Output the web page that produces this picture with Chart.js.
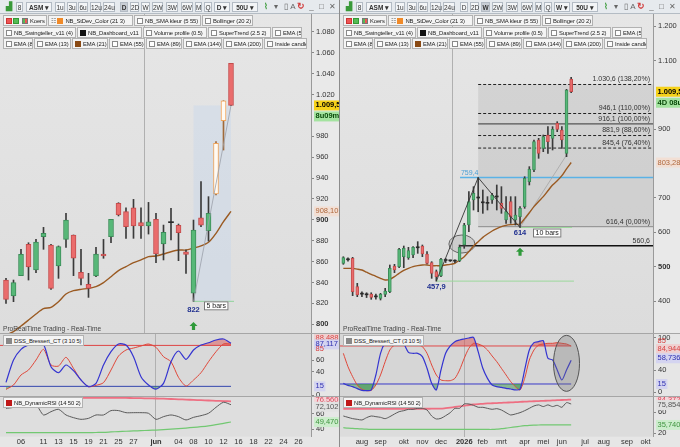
<!DOCTYPE html>
<html><head><meta charset="utf-8">
<script src="https://cdn.jsdelivr.net/npm/chart.js@4.4.1/dist/chart.umd.min.js"></script>
<style>
body{margin:0;width:680px;height:447px;overflow:hidden;position:relative;background:#e0e0e0;font-family:"Liberation Sans",Arial,sans-serif;}
.pan{position:absolute;top:0;width:340px;height:447px;overflow:hidden;}
.pan canvas{position:absolute;left:0;}
.tb{position:absolute;left:0;top:0;width:340px;height:14px;background:#e6eaee;border-bottom:1px solid #b4bcc4;box-sizing:border-box;}
.tb span{position:absolute;top:2px;height:10px;line-height:9px;border:1px solid #b3bbc4;background:#f3f5f7;text-align:center;color:#333;box-sizing:border-box;font-size:6.5px;}
.tb span.n{border:none;background:none;font-size:8px;color:#666}
.tb span.sel{background:#c9ced5;font-weight:bold}
.tb span.b{font-weight:bold}
.lg{position:absolute;height:11px;line-height:10px;font-size:5.9px;letter-spacing:-0.12px;color:#222;background:#f4f4f4;border:1px solid #b2b2b2;box-sizing:border-box;padding-left:2px;white-space:nowrap;overflow:hidden}
.lg i{display:inline-block;width:4px;height:4px;border:1px solid #8a8a8a;margin-right:2px;vertical-align:-1px;background:#fff}
.sep{position:absolute;background:#a6a6a6}
.prt{position:absolute;left:3px;top:325px;font-size:6.6px;color:#444;white-space:nowrap}
</style></head>
<body>
<div class="pan" id="pl" style="left:0">
  <canvas id="cpl" width="340" height="319" style="top:14px"></canvas>
  <canvas id="cdl" width="340" height="63" style="top:333px"></canvas>
  <canvas id="crl" width="340" height="51" style="top:396px"></canvas>
</div>
<div class="pan" id="pr" style="left:340px">
  <canvas id="cpr" width="340" height="319" style="top:14px"></canvas>
  <canvas id="cdr" width="340" height="63" style="top:333px"></canvas>
  <canvas id="crr" width="340" height="51" style="top:396px"></canvas>
</div>
<div class="sep" style="left:339px;top:0;width:1px;height:447px;background:#8c8c8c"></div>
<script>
// ---------- daily chart (left) ----------
const dayTickPos  = [2, 5, 7, 9, 11, 13, 15, 17, 20, 23, 25, 27, 29, 31, 33, 35, 37, 39];
const dayTickText = ['06','11','13','15','19','21','25','27','jun','04','08','10','12','16','18','22','24','26'];
const dayOpen  = [842.4,827.1,846.6,876.6,852,883.9,875.9,855.8,881.3,885.5,849.8,838.3,846.3,867.3,883.9,915.8,907.8,911.6,897.3,894.1,900.5,876.9,897.3,894.7,869.5,829.7,902,889.6,924.7,994.9,1049.8];
const dayHigh  = [844,842.4,871.8,878.1,881.3,892.8,876.6,875,906.2,885.5,871.8,848.8,873.7,881.3,900.5,916.4,911.6,919.6,911.6,916.7,906.2,895,911,896,871.1,899.8,936.5,922.2,974.8,1014,1049.8];
const dayLow   = [820,821.7,846.6,842.4,849.4,871.8,833.5,844,873.7,846.6,837.6,825.8,845.6,863.2,878.1,903.7,882.3,882.3,882.3,886.4,859,861.6,880.7,860.9,848.8,822,893.5,879.7,923.8,966.8,1009.3];
const dayClose = [823.9,839.9,867,854.9,878.8,887.1,834.4,874.3,899.8,863.2,844,834.4,867.3,865.4,900.5,904.6,893.5,894.1,894.1,898.2,867.3,888,897.5,887.7,867,890.3,895,906.2,973.2,1014,1009.5];
const dayEma21 = [789.8,793,798.4,804.1,809.9,815,816.3,821.7,829,832.2,833.5,834.4,836,839.9,845.6,851.4,855.2,859,861.6,864.8,865.4,867.3,869.5,871.1,871.1,873,875,878.5,887.1,898.2,908.1];
const dayDssFast = [21.8,60,78.2,85.6,87.4,86.8,48.6,38.3,51.5,41.8,25.8,14.4,20.1,51.5,74.2,87.4,85.6,65.7,31.5,17.3,10.4,20.1,57.1,75.4,61.1,77.1,85.6,89.6,94.2,95.9,88.5];
const dayDssSlow = [9.8,17.3,34.4,42.9,60,78.2,51.5,49.7,64.6,45.7,25.8,14.4,16.7,21.3,42.9,66.8,77.1,80.5,83.9,87.4,81.7,65.7,57.1,30.4,15.6,25.8,38.3,57.1,74.2,87.4,87.4];
const dayRsi   = [67.4,68.7,73.9,68.7,71.8,58.7,63,66.1,58.7,55.2,53,54.3,58.7,58.7,64.4,64.4,61.7,61.7,61.7,60.9,53,56.5,58.7,56.5,52.2,55.6,57.8,60.9,68.7,75.3,72.1];
const dayRsiUp = [80,80,80,80.2,80.4,80.5,80.8,81,81,81,81,81,81,81,81,81,81,80.8,80.6,80.4,80.2,80,79.6,79.2,78.8,78.4,78,77.6,77.2,76.9,76.6];
const dayRsiLo = [35.6,35.6,35.6,35.6,35.6,35.6,35.6,35.6,35.6,35.6,35.6,35.6,35.8,36,36.5,37,37.4,37.8,38.2,38.6,39,39.6,40.2,40.8,41.6,42.5,43.4,44.5,46,47.8,49.5];
const dayPriceTicks = [800,820,840,860,880,900,920,940,960,980,1020,1040,1060,1080];

// ---------- weekly chart (right) ----------
const wkTickPos  = [4, 8, 13, 17, 21, 26, 30, 34, 39, 43, 47, 52, 56, 61, 65];
const wkTickText = ['aug','sep','okt','nov','dec','2026','feb','mrt','apr','mei','jun','jul','aug','sep','okt'];
const wkOpen  = [509.7,520,524.3,441.7,421,418,420.4,412,407.8,419.4,427.2,501.9,500,529.1,526.2,534,555,560.2,536.9,511.7,485.4,472.8,518,517,516,517.5,563.1,621.4,694.2,702,688,686,694.2,704,684.5,635.9,689.3,635.9,645.6,674.8,747.6,781.6,868.9,844.7,883.5,873.8,917.5,898,830.1,1046.6];
const wkHigh  = [529,526,527.2,451.5,427,424,424,420,422.3,436.9,504.9,506.8,553.4,560.2,556.3,558.3,572.8,563.1,543.7,514.6,490.3,524.3,524,519,520,563.1,626.2,718.4,733,759.4,723.3,703.9,713.6,737.9,733,703.9,703.9,703.9,674.8,762.1,791.3,868.9,873.8,883.5,907.8,907.8,922.3,907.8,1016.5,1051.5];
const wkLow   = [506.8,516,415.5,412.6,412.6,410,404.9,405,402.9,412.6,424.3,482.5,497.1,497.1,521.4,526.2,538.8,529.1,507.8,466,457.9,470.9,512,515,512,514.6,553.4,601.9,665,660,655.3,665,684.5,665,655.3,626.2,626.2,621.4,614,669.9,737.9,776.7,815.5,834.9,830.1,839.8,893.2,844.7,820.4,1007];
const wkClose = [526.2,522,427.2,417.5,420,419,410.7,413,419.4,429.1,495.1,490.3,550.5,553.4,546.6,556.3,557,536.9,509.7,480.6,470.9,521.4,520,517.5,517,556.3,621.4,689.3,713.6,700,686,684.5,708.7,703,669.9,660.2,645.6,650.5,669.9,757.3,783.5,864.1,830.1,878.6,864.1,900,900,868.9,1014.6,1009.5];
const wkEma21 = [495.1,495.1,495,493,490.3,484,477.7,472,466,461.2,463,470.9,480.6,489.3,495.1,500,502.9,504.9,504.9,502.9,502.9,502.9,504.9,506.8,509.7,519.4,529,543.7,560.2,572.8,585.4,595.1,603.9,610.7,616.5,620.4,622.3,623.3,624.3,640,657,674.8,690,703.9,721,737.9,750,765,785,803.3];
const wkDssFast = [16.2,12.5,10.1,6.4,3.3,2.7,4,31.6,71.5,91.1,96,96,93,88.7,73.3,71.5,71.5,65.4,43.9,16.2,4,40.8,71.5,85,93,96,97.9,99.7,100.9,74.5,43.9,25.4,13.2,10.1,8.9,7,5.8,4,5.2,40.8,77.6,91.1,93,94.8,62.3,59.2,40.8,22.4,40.8,58.7];
const wkDssSlow = [71.5,46.9,28.5,13.2,5.2,2.7,3.3,13.2,31.6,56.1,77.6,86.8,88.7,89.9,89.9,88.7,87.4,83.8,71.5,50,31.6,22.4,21.1,21.1,25.4,40.8,62.3,80.7,89.9,88.7,85,77.6,66.6,56.1,43.9,31.6,19.3,10.1,4,25.4,59.2,77.6,86.8,88.7,89.9,89.9,91.1,89.9,88.7,84.9];
const wkRsi   = [52.9,50.3,47.8,46.5,45.2,49.7,52.9,51.6,50.3,47.8,51.6,56.7,61.2,63.1,65.7,65.7,67.6,67.6,64.4,52.9,47.1,48.4,53.5,59.3,67.6,67.6,76,76,73.4,69.6,69.6,67.6,65.7,67,64.4,59.3,54.8,56.7,59.3,63.1,67.6,72.2,74.2,71,74.2,71,73.4,69.6,78.5,75.9];
const wkRsiUp = [66.5,66.5,66.5,66.5,66.5,66.5,66.5,66.5,66.5,66.5,66.5,66.5,66.6,66.6,66.7,66.7,66.8,66.8,66.8,66.9,66.9,67,68,69,70.2,71.4,72.6,74,75,75.7,76.3,77,77.4,77.8,78.2,78.6,79,79.4,80,80.4,80.8,81.2,81.6,82,82.4,82.8,83.2,83.6,84,84.4];
const wkRsiLo = [30.5,29.5,29,28.5,28,27.5,27.2,27,27,27,27,27,27,27,27,27,27,27,27,27,27,27,27,27,27,27,27,27,27,27,27,27,27,27.5,28.5,29.5,30.8,32,33.2,34.2,35,35.4,35.6,35.7,35.7,35.7,35.7,35.7,35.7,35.7];
const wkPriceTicks = [400,500,600,700,900,1100,1200];
const fibLevels = [1030.6, 946.1, 916.1, 881.9, 845.4, 616.4];
const fibText   = ['1.030,6 (138,20%)','946,1 (110,00%)','916,1 (100,00%)','881,9 (88,60%)','845,4 (76,40%)','616,4 (0,00%)'];

const FONT = '"Liberation Sans", Arial, sans-serif';
const fmtNum = v => String(v).replace(/\B(?=(\d{3})+(?!\d))/g, '.');

// ---------- page chrome ----------
function toolbar(panel, sel, tf) {
  const items = [['',3,11,'ic'],['8',16,7,''],['ASM ▾',26,26,'b'],['1u',55,10,''],['3u',67,10,''],['6u',78,10,''],['12u',90,11,''],['24u',103,12,''],
    ['D',120,8,''],['2D',130,9,''],['W',141,9,''],['2W',152,11,''],['3W',166,12,''],['6W',181,12,''],['M',195,7,''],['Q',204,8,''],
    [tf + ' ▾',214,16,'b'],['50U ▾',232,26,'b'],['',260,12,'ch'],['▾',273,6,'n'],['▯',283,6,'n'],['A',290,6,'n'],['↻',296,10,'rf'],['_',308,7,'n'],['□',318,7,'n'],['✕',328,8,'n']];
  const tb = document.createElement('div'); tb.className = 'tb';
  items.forEach(([t, x, w, k]) => {
    const s = document.createElement('span');
    s.textContent = t; s.style.left = x + 'px'; s.style.width = w + 'px';
    if (t === sel) k = 'sel';
    if (k) s.className = k === 'ic' || k === 'ch' || k === 'rf' ? 'n' : k;
    if (k === 'ic') s.innerHTML = '<b style="color:#3a9a3a;font-size:8px">▟</b>';
    if (k === 'ch') s.innerHTML = '<b style="color:#3a9a3a;font-size:8px">⌇</b>';
    if (k === 'rf') s.innerHTML = '<b style="color:#d23a3a;font-size:9px">↻</b>';
    tb.appendChild(s);
  });
  panel.appendChild(tb);
}
const legendRows = [
  [15, [[3,44,'Koers','k'],[48,85,'NB_StDev_Color (21 3)','o'],[134,67,'NB_SMA kleur (5 55)',''],[202,51,'Bollinger (20 2)','']]],
  [27, [[3,73,'NB_Swingteller_v11 (4)',''],[77,65,'NB_Dashboard_v11','b'],[143,64,'Volume profile (0.5)',''],[208,63,'SuperTrend (2.5 2)',''],[272,30,'EMA (5)','']]],
  [38, [[3,30,'EMA (8)',''],[34,37,'EMA (13)',''],[72,36,'EMA (21)','e'],[109,36,'EMA (55)',''],[146,36,'EMA (89)',''],[183,39,'EMA (144)',''],[223,40,'EMA (200)',''],[264,43,'Inside candle','']]]
];
function legends(panel) {
  const sw = {o:'#f08a28', b:'#111', e:'#8a4a14', g:'#888', r:'#c01818'};
  const add = (y, x, w, t, k) => {
    const d = document.createElement('div'); d.className = 'lg';
    d.style.cssText = `left:${x}px;top:${y}px;width:${w}px`;
    let pre = `<i style="${sw[k] ? 'background:' + sw[k] + ';border-color:' + sw[k] : ''}"></i>`;
    if (k === 'k') pre = '<i style="background:#e55;border-color:#c33;margin-right:1px"></i><i style="background:#5b5;border-color:#393;margin-right:3px"></i><i style="background:linear-gradient(90deg,#5b5 50%,#e55 50%);border-color:#777"></i>';
    if (k === 'o') pre = '<span style="color:#555">☷ </span>' + pre;
    d.innerHTML = pre + t; panel.appendChild(d);
  };
  legendRows.forEach(([y, row]) => row.forEach(([x, w, t, k]) => add(y, x, w, t, k)));
  add(335, 3, 81, 'DSS_Bressert_CT (3 10 5)', 'g');
  add(397, 3, 80, 'NB_DynamicRSI (14 50 2)', 'r');
  const p = document.createElement('div'); p.className = 'prt';
  p.textContent = 'ProRealTime Trading - Real-Time'; panel.appendChild(p);
  [333, 396].forEach(y => { const s = document.createElement('div'); s.className = 'sep';
    s.style.cssText = `left:0;top:${y}px;width:340px;height:1px`; panel.appendChild(s); });
}
const pl = document.getElementById('pl'), pr = document.getElementById('pr');
toolbar(pl, 'D', 'D'); toolbar(pr, 'W', 'W');
legends(pl); legends(pr);

// ---------- drawing helpers ----------
function seg(c, x1, y1, x2, y2, col, w, dash) {
  c.save(); c.strokeStyle = col; c.lineWidth = w; c.setLineDash(dash || []);
  c.beginPath(); c.moveTo(x1, y1); c.lineTo(x2, y2); c.stroke(); c.restore();
}
function txt(c, s, x, y, col, font, align, base) {
  c.save(); c.fillStyle = col; c.font = font || ('7px ' + FONT);
  c.textAlign = align || 'left'; c.textBaseline = base || 'middle'; c.fillText(s, x, y); c.restore();
}
function tag(ch, v, s, bg, fg, dy, bold) {
  const c = ch.ctx, a = ch.chartArea, y = ch.scales.y.getPixelForValue(v) + (dy || 0);
  c.save(); c.font = (bold ? 'bold ' : '') + '7.5px ' + FONT;
  const w = c.measureText(s).width + 3;
  if (bg) { c.fillStyle = bg; c.fillRect(a.right + 3, y - 5, w, 10); }
  c.fillStyle = fg; c.textBaseline = 'middle'; c.fillText(s, a.right + 4.5, y); c.restore();
}
function barsBox(c, s, x, y) {
  c.save(); c.font = '7px ' + FONT; const w = c.measureText(s).width + 5;
  c.fillStyle = '#fff'; c.fillRect(x, y, w, 9); c.strokeStyle = '#777'; c.lineWidth = 1;
  c.strokeRect(x + 0.5, y + 0.5, w - 1, 8); c.fillStyle = '#222'; c.textBaseline = 'middle';
  c.fillText(s, x + 2.5, y + 4.8); c.restore();
}
function arrow(c, x, y) {
  c.save(); c.fillStyle = '#2f9a3a'; c.beginPath();
  c.moveTo(x, y); c.lineTo(x + 4, y + 4); c.lineTo(x + 1.6, y + 4); c.lineTo(x + 1.6, y + 8);
  c.lineTo(x - 1.6, y + 8); c.lineTo(x - 1.6, y + 4); c.lineTo(x - 4, y + 4); c.closePath(); c.fill(); c.restore();
}
function ell(c, x, y, rx, ry, fill, stroke) {
  c.save(); c.beginPath(); c.ellipse(x, y, rx, ry, 0, 0, Math.PI * 2);
  c.fillStyle = fill; c.fill(); c.strokeStyle = stroke; c.lineWidth = 1; c.stroke(); c.restore();
}

const deco = {};
Chart.register({
  id: 'deco',
  beforeDraw(ch) {
    const d = deco[ch.canvas.id]; if (!d) return;
    const c = ch.ctx, a = ch.chartArea;
    c.save(); c.fillStyle = d.axisBg; c.fillRect(0, 0, ch.width, ch.height);
    let g = d.bg;
    if (Array.isArray(d.bg)) { g = c.createLinearGradient(0, a.top, 0, a.bottom); g.addColorStop(0, d.bg[0]); g.addColorStop(1, d.bg[1]); }
    c.fillStyle = g; c.fillRect(a.left, a.top, a.right - a.left, a.bottom - a.top); c.restore();
  },
  beforeDatasetsDraw(ch) {
    const d = deco[ch.canvas.id];
    if (d && d.under) d.under(ch, ch.ctx, v => ch.scales.x.getPixelForValue(v), v => ch.scales.y.getPixelForValue(v), ch.chartArea);
  },
  afterDraw(ch) {
    const d = deco[ch.canvas.id];
    if (d && d.over) d.over(ch, ch.ctx, v => ch.scales.x.getPixelForValue(v), v => ch.scales.y.getPixelForValue(v), ch.chartArea);
  }
});

// ---------- chart builders ----------
function xAxis(pos, text, min, max, sep, bold, show) {
  return {
    type: 'linear', min, max, offset: false,
    afterBuildTicks: s => { s.ticks = pos.map(v => ({value: v})); },
    ticks: { display: show, autoSkip: false, maxRotation: 0, padding: 1, color: '#333',
      font: ctx => ({family: FONT, size: 7.5, weight: ctx.tick && text[pos.indexOf(ctx.tick.value)] === bold ? 'bold' : 'normal'}),
      callback: v => text[pos.indexOf(v)] },
    grid: { drawTicks: false, lineWidth: 1, color: ctx => ctx.tick && ctx.tick.value === sep ? '#b0b0b0' : 'rgba(0,0,0,0)' },
    border: { display: false },
    afterFit: s => { s.height = show ? 10.3 : 0; s.paddingLeft = 0; s.paddingRight = 0; }
  };
}
function yAxis(min, max, ticks, fmt, bold, w) {
  return {
    position: 'right', min, max,
    afterBuildTicks: s => { s.ticks = ticks.map(v => ({value: v})); },
    ticks: { padding: 2, color: '#333', autoSkip: false, callback: v => fmt(v),
      font: ctx => ({family: FONT, size: 7.5, weight: ctx.tick && bold.includes(ctx.tick.value) ? 'bold' : 'normal'}) },
    grid: { drawOnChartArea: false, tickLength: 3, color: '#888' },
    border: { color: '#9a9a9a' },
    afterFit: s => { s.width = w; s.paddingTop = 0; s.paddingBottom = 0; }
  };
}
function baseOpts(x, y) {
  return { responsive: false, animation: false, events: [], layout: {padding: 0},
    plugins: { legend: {display: false}, tooltip: {enabled: false} }, scales: {x, y} };
}
function candles(o, h, l, c, hollow, tol, bodyW) {
  const body = [], wick = [], bg = [], bd = [], bw = [], wc = [];
  o.forEach((op, i) => {
    const cl = c[i];
    wick.push({x: i, y: [l[i], h[i]]});
    body.push({x: i, y: [Math.min(op, cl), Math.max(op, cl)]});
    if (hollow.includes(i)) { bg.push('#fffaf3'); bd.push('#f0a45a'); bw.push(1); wc.push('#a06a3a'); }
    else if (Math.abs(cl - op) < tol) { bg.push('#2a2a2a'); bd.push('#2a2a2a'); bw.push(0); wc.push('#3a3a3a'); }
    else if (cl > op) { bg.push('#57b878'); bd.push('#3d8d5a'); bw.push(1); wc.push('#3a3a3a'); }
    else { bg.push('#ea6c6c'); bd.push('#c44c4c'); bw.push(1); wc.push('#3a3a3a'); }
  });
  return [
    {type: 'bar', data: body, backgroundColor: bg, borderColor: bd, borderWidth: bw, borderSkipped: false, barThickness: bodyW, minBarLength: 1, grouped: false},
    {type: 'bar', data: wick, backgroundColor: wc, borderWidth: 0, barThickness: 1, grouped: false}
  ];
}
const pts = a => a.map((v, i) => ({x: i, y: v}));
const line = (a, col, w, extra) => Object.assign({type: 'line', data: pts(a), borderColor: col, borderWidth: w, pointRadius: 0, tension: 0.25, fill: false}, extra || {});

// ---------- left: daily ----------
const dX = [-0.8, 40.667];
deco.cpl = {
  bg: ['#e6e6e6', '#dddddd'], axisBg: '#e9e9e9',
  under(ch, c, X, Y, a) {
    c.save(); c.fillStyle = 'rgba(200,214,236,0.45)';
    c.fillRect(X(25), Y(1009.5), X(30) - X(25), Y(822) - Y(1009.5)); c.restore();
    seg(c, X(25), Y(822), X(30.4), Y(822), '#8fd39a', 1);
  },
  over(ch, c, X, Y, a) {
    seg(c, X(25), Y(822), X(30), Y(1009.5), '#9aa0aa', 0.8);
    txt(c, '822', X(25), Y(822) + 9, '#1f2f8f', 'bold 7.5px ' + FONT, 'center');
    barsBox(c, '5 bars', X(25) + 10.5, Y(822));
    arrow(c, X(25), a.bottom - 11);
    tag(ch, 1009.5, '1.009,5', '#f6d21a', '#000', 0, true);
    tag(ch, 1009.5, '8u09m', '#a4e3a0', '#0a4a0a', 11, true);
    tag(ch, 908.1, '908,10', '#f2dfd4', '#b0683c', 0);
  }
};
new Chart(document.getElementById('cpl'), {
  type: 'bar',
  data: { datasets: [...candles(dayOpen, dayHigh, dayLow, dayClose, [28, 29], 1, 5), line(dayEma21, '#9a5a22', 1.4)] },
  options: baseOpts(xAxis(dayTickPos, dayTickText, dX[0], dX[1], 20, 'jun', false),
    yAxis(791.7, 1097, dayPriceTicks, fmtNum, [800, 900], 29))
});

deco.cdl = {
  bg: '#d9d9d9', axisBg: '#e6e6e6',
  under(ch, c, X, Y, a) {
    seg(c, a.left, Y(85), X(30), Y(85), '#e04848', 1);
    seg(c, a.left, Y(15), X(30), Y(15), '#3a3ac8', 1);
  },
  over(ch) {
    tag(ch, 88.5, '88,488', '#efd0d0', '#d84040', -5);
    tag(ch, 88.5, '87,117', '#d4d4f0', '#2e2eb0', 1);
    tag(ch, 85, '85', null, '#d84040', 4);
    tag(ch, 15, '15', '#d4d4f0', '#2e2eb0', 0);
  }
};
new Chart(document.getElementById('cdl'), {
  type: 'line',
  data: { datasets: [
    line(dayDssFast, '#3434d0', 1.2), line(dayDssSlow, '#e0483a', 1),
    line(dayDssFast, 'rgba(0,0,0,0)', 0, {fill: {target: {value: 85}, above: 'rgba(222,70,70,0.45)', below: 'rgba(0,0,0,0)'}}),
    line(dayDssSlow, 'rgba(0,0,0,0)', 0, {fill: {target: {value: 85}, above: 'rgba(222,70,70,0.45)', below: 'rgba(0,0,0,0)'}}),
    line(dayDssFast, 'rgba(0,0,0,0)', 0, {fill: {target: {value: 15}, above: 'rgba(0,0,0,0)', below: 'rgba(60,150,80,0.5)'}}),
    line(dayDssSlow, 'rgba(0,0,0,0)', 0, {fill: {target: {value: 15}, above: 'rgba(0,0,0,0)', below: 'rgba(60,150,80,0.5)'}})
  ] },
  options: baseOpts(xAxis(dayTickPos, dayTickText, dX[0], dX[1], 20, 'jun', false),
    yAxis(-1.5, 106.2, [0, 40, 60], v => String(v), [], 29))
});

deco.crl = {
  bg: '#dedede', axisBg: '#e6e6e6',
  over(ch) {
    tag(ch, 76.56, '76,560', '#f5d4d8', '#d8485a', -1);
    tag(ch, 72.1, '72,102', '#e2e2e2', '#555', 2);
    tag(ch, 49.47, '49,470', '#ccedcc', '#3f943f', 0);
  }
};
new Chart(document.getElementById('crl'), {
  type: 'line',
  data: { datasets: [ line(dayRsi, '#5a5a5a', 1), line(dayRsiUp, '#ee6f82', 1.8), line(dayRsiLo, '#72c872', 1.2) ] },
  options: baseOpts(xAxis(dayTickPos, dayTickText, dX[0], dX[1], 20, 'jun', true),
    yAxis(30.3, 83.5, [40, 60], v => String(v), [], 29))
});

// ---------- right: weekly ----------
const wX = [-0.716, 66.6];
deco.cpr = {
  bg: ['#e6e6e6', '#dcdcdc'], axisBg: '#e9e9e9',
  under(ch, c, X, Y, a) {
    c.save(); c.fillStyle = 'rgba(150,150,150,0.22)';
    c.fillRect(X(29), Y(1030.6), a.right - X(29), Y(616.4) - Y(1030.6)); c.restore();
    fibLevels.forEach((v, i) => {
      if (v === 916.1) seg(c, X(29), Y(v), a.right, Y(v), '#555', 1.2);
      else if (v === 616.4) seg(c, X(29), Y(v), a.right, Y(v), '#8a8a8a', 1);
      else seg(c, X(29), Y(v), a.right, Y(v), '#222', 1, [3, 2]);
    });
    seg(c, X(25.1), Y(759.4), a.right, Y(759.4), '#5ab2e6', 1.5);
    seg(c, X(24.9), Y(560.6), a.right, Y(560.6), '#111', 1.5);
    seg(c, X(20), Y(457.9), X(49.6), Y(457.9), '#9cd89c', 1);
    seg(c, X(38), Y(614), X(49.2), Y(614), '#9cd89c', 1);
    seg(c, X(38), Y(614), X(48), Y(825), '#a4a4a4', 0.8);
    ell(c, X(25.5), Y(566), 13, 9, 'rgba(140,140,140,0.22)', '#666');
  },
  over(ch, c, X, Y, a) {
    seg(c, X(20), Y(457.9), X(29), Y(759.4), '#333', 0.9);
    seg(c, X(29), Y(759.4), X(38), Y(614), '#333', 0.9);
    fibLevels.forEach((v, i) => txt(c, fibText[i], a.right - 3, Y(v) - 1.5, '#333', '7px ' + FONT, 'right', 'bottom'));
    txt(c, '759,4', X(25.3), Y(759.4) - 1.5, '#4a9fd6', '7px ' + FONT, 'left', 'bottom');
    txt(c, '560,6', a.right - 3, Y(560.6) - 1.5, '#333', '7px ' + FONT, 'right', 'bottom');
    txt(c, '457,9', X(20), Y(457.9) + 6, '#1f2f8f', 'bold 7.5px ' + FONT, 'center');
    txt(c, '614', X(38), Y(614) + 5, '#1f2f8f', 'bold 7.5px ' + FONT, 'center');
    barsBox(c, '10 bars', X(38) + 13, Y(614) + 1);
    arrow(c, X(38), Y(560.6) + 2);
    tag(ch, 1009.5, '1.009,5', '#f6d21a', '#000', 0, true);
    tag(ch, 1009.5, '4D 08u', '#a4e3a0', '#0a4a0a', 11, true);
    tag(ch, 803.28, '803,28', '#f2dfd4', '#b0683c', 0);
  }
};
new Chart(document.getElementById('cpr'), {
  type: 'bar',
  data: { datasets: [...candles(wkOpen, wkHigh, wkLow, wkClose, [], 3.5, 3), line(wkEma21, '#9a5a22', 1.4)] },
  options: baseOpts(xAxis(wkTickPos, wkTickText, wX[0], wX[1], 26, '2026', false),
    yAxis(306.8, 1235.9, wkPriceTicks, fmtNum, [500], 27))
});

deco.cdr = {
  bg: '#d6d6d6', axisBg: '#e6e6e6',
  under(ch, c, X, Y, a) {
    seg(c, a.left, Y(85), X(49), Y(85), '#e04848', 1);
    seg(c, a.left, Y(15), X(49), Y(15), '#3a3ac8', 1);
  },
  over(ch, c, X, Y) {
    ell(c, X(48), Y(53), 13, 28, 'rgba(120,120,120,0.3)', '#555');
    tag(ch, 85, '85', null, '#d84040', -5);
    tag(ch, 84.9, '84,944', '#efd0d0', '#d84040', 3);
    tag(ch, 58.7, '58,736', '#d4d4f0', '#2e2eb0', -2);
    tag(ch, 15, '15', '#d4d4f0', '#2e2eb0', 0);
  }
};
new Chart(document.getElementById('cdr'), {
  type: 'line',
  data: { datasets: [
    line(wkDssFast, '#3434d0', 1.2), line(wkDssSlow, '#e0483a', 1),
    line(wkDssFast, 'rgba(0,0,0,0)', 0, {fill: {target: {value: 85}, above: 'rgba(222,70,70,0.45)', below: 'rgba(0,0,0,0)'}}),
    line(wkDssSlow, 'rgba(0,0,0,0)', 0, {fill: {target: {value: 85}, above: 'rgba(222,70,70,0.45)', below: 'rgba(0,0,0,0)'}}),
    line(wkDssFast, 'rgba(0,0,0,0)', 0, {fill: {target: {value: 15}, above: 'rgba(0,0,0,0)', below: 'rgba(60,150,80,0.5)'}}),
    line(wkDssSlow, 'rgba(0,0,0,0)', 0, {fill: {target: {value: 15}, above: 'rgba(0,0,0,0)', below: 'rgba(60,150,80,0.5)'}})
  ] },
  options: baseOpts(xAxis(wkTickPos, wkTickText, wX[0], wX[1], 26, '2026', false),
    yAxis(-7.1, 108.9, [0, 40, 100], v => String(v), [], 27))
});

deco.crr = {
  bg: '#dcdcdc', axisBg: '#e6e6e6',
  over(ch) {
    tag(ch, 84.4, '84,372', '#f5d4d8', '#d8485a', 0);
    tag(ch, 75.85, '75,854', '#e2e2e2', '#555', 1);
    tag(ch, 35.74, '35,740', '#ccedcc', '#3f943f', 0);
  }
};
new Chart(document.getElementById('crr'), {
  type: 'line',
  data: { datasets: [ line(wkRsi, '#5a5a5a', 1), line(wkRsiUp, '#ee6f82', 1.8), line(wkRsiLo, '#72c872', 1.2) ] },
  options: baseOpts(xAxis(wkTickPos, wkTickText, wX[0], wX[1], 26, '2026', true),
    yAxis(13.1, 91.3, [20, 60], v => String(v), [], 27))
});
</script>
</body></html>
